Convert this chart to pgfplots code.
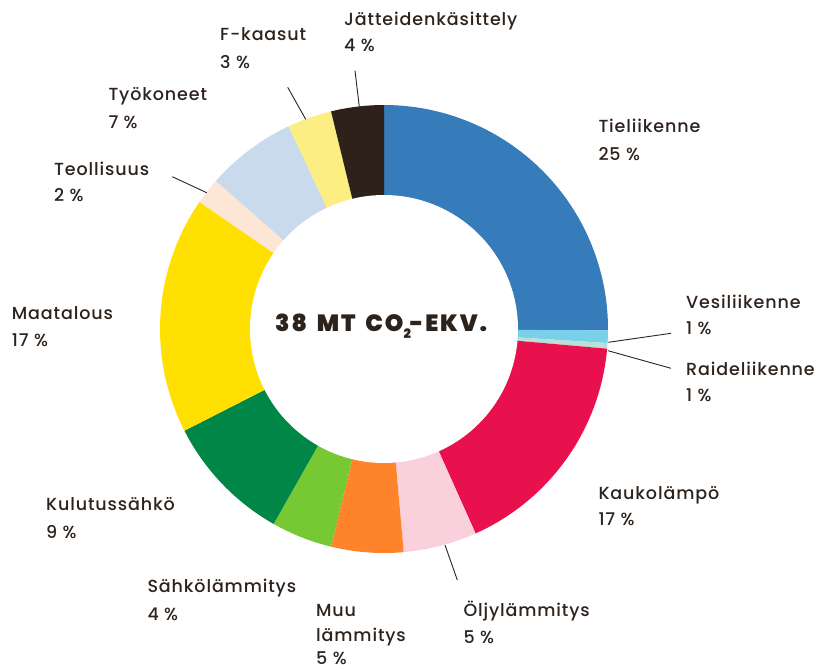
\documentclass[border=0pt]{standalone}
\usepackage{pgfplots}
\pgfplotsset{compat=1.18}
\usepackage{pgfplotstable}
\usepackage{fontspec}
\setmainfont{Poppins}
\newfontfamily\lab[UprightFont=* Medium, LetterSpace=5]{Poppins}
\newfontfamily\heavy[UprightFont=* Black, LetterSpace=8]{Poppins}
\definecolor{txt}{HTML}{2D231D}
\definecolor{cTie}{HTML}{367BBA}
\definecolor{cVesi}{HTML}{78D0EB}
\definecolor{cRaide}{HTML}{B9E0D4}
\definecolor{cKauko}{HTML}{E8114E}
\definecolor{cOljy}{HTML}{F9D0DC}
\definecolor{cMuu}{HTML}{FF832B}
\definecolor{cSahkol}{HTML}{76C933}
\definecolor{cKulutus}{HTML}{008647}
\definecolor{cMaa}{HTML}{FFE000}
\definecolor{cTeol}{HTML}{FDE6D5}
\definecolor{cTyo}{HTML}{C8DAEC}
\definecolor{cF}{HTML}{FCEE82}
\definecolor{cJate}{HTML}{2E2119}
\pgfplotstableread{
value color
25.1 cTie
0.9 cVesi
0.4 cRaide
16.9 cKauko
5.3 cOljy
5.2 cMuu
4.4 cSahkol
9.3 cKulutus
17.1 cMaa
1.9 cTeol
6.5 cTyo
3.2 cF
3.8 cJate
}\slices
\begin{document}
\begin{tikzpicture}
\begin{axis}[width=816bp, height=670bp, scale only axis,
  xmin=0, xmax=816, ymin=0, ymax=670, y dir=reverse,
  hide axis, clip=false]
\xdef\cum{0}
\pgfplotsforeachungrouped \i in {0,...,12}{%
  \pgfplotstablegetelem{\i}{value}\of\slices \let\val\pgfplotsretval
  \pgfplotstablegetelem{\i}{color}\of\slices \let\col\pgfplotsretval
  \pgfmathsetmacro\a{90-3.6*\cum}%
  \pgfmathsetmacro\newcum{\cum+\val}%
  \pgfmathsetmacro\b{90-3.6*\newcum}%
  \global\let\cum\newcum
  \edef\doplot{\noexpand\addplot[fill=\col, draw=none, domain=\b:\a, samples=90, variable=\noexpand\t] ({384+224*cos(\noexpand\t)},{329-224*sin(\noexpand\t)}) -- (axis cs:384,329) -- cycle;}%
  \doplot
}
\addplot[fill=white, draw=none, domain=0:360, samples=240, variable=\t] ({384+134*cos(\t)},{329-134*sin(\t)}) -- cycle;
% leader lines
\addplot[txt, line width=0.9bp] coordinates {(608.3,342.3) (671,333.3)};
\addplot[txt, line width=0.9bp] coordinates {(608,350.7) (671,368.3)};
\addplot[txt, line width=0.9bp] coordinates {(359.3,106.7) (355,70.7)};
\addplot[txt, line width=0.9bp] coordinates {(305.7,119.3) (287.7,87.3)};
\addplot[txt, line width=0.9bp] coordinates {(206.7,192.7) (172.3,176.7)};
\addplot[txt, line width=0.9bp] coordinates {(445,545) (457.3,580)};
% labels
\tikzset{lb/.style={anchor=base west, inner sep=0pt, text=txt, font=\lab\fontsize{17.5bp}{20bp}\selectfont}}
\node[lb] at (axis cs:598.3,132.7) {Tieliikenne};
\node[lb] at (axis cs:598.3,160) {25 \%};
\node[lb] at (axis cs:686,308.3) {Vesiliikenne};
\node[lb] at (axis cs:686,334) {1 \%};
\node[lb] at (axis cs:686,375.7) {Raideliikenne};
\node[lb] at (axis cs:686,401.7) {1 \%};
\node[lb] at (axis cs:598.3,499.3) {Kaukolämpö};
\node[lb] at (axis cs:598.3,525) {17 \%};
\node[lb] at (axis cs:463.3,616) {Öljylämmitys};
\node[lb] at (axis cs:463.3,643.3) {5 \%};
\node[lb] at (axis cs:316,616) {Muu};
\node[lb] at (axis cs:316,641.5) {lämmitys};
\node[lb] at (axis cs:316,664.5) {5 \%};
\node[lb] at (axis cs:147.3,592.3) {Sähkölämmitys};
\node[lb] at (axis cs:147.3,620) {4 \%};
\node[lb] at (axis cs:46,510.7) {Kulutussähkö};
\node[lb] at (axis cs:46,538.3) {9 \%};
\node[lb] at (axis cs:11.7,319.3) {Maatalous};
\node[lb] at (axis cs:11.7,346) {17 \%};
\node[lb] at (axis cs:54,175.7) {Teollisuus};
\node[lb] at (axis cs:54,201.7) {2 \%};
\node[lb] at (axis cs:108.3,100.7) {Työkoneet};
\node[lb] at (axis cs:108.3,128.3) {7 \%};
\node[lb] at (axis cs:220,40.7) {F-kaasut};
\node[lb] at (axis cs:220,68.3) {3 \%};
\node[lb] at (axis cs:344,25) {Jätteidenkäsittely};
\node[lb] at (axis cs:344,51.7) {4 \%};
\node[anchor=base west, inner sep=0pt, text=txt, font=\heavy\fontsize{23.5bp}{26bp}\selectfont] at (axis cs:275,331.7) {38\hspace{4bp} MT\hspace{4bp} CO\raisebox{-7bp}{\fontsize{13bp}{13bp}\selectfont 2}\hspace{-1bp}-EKV.};
\end{axis}
\pgfresetboundingbox
\path (0,0) rectangle (816bp,670bp);
\end{tikzpicture}
\end{document}
